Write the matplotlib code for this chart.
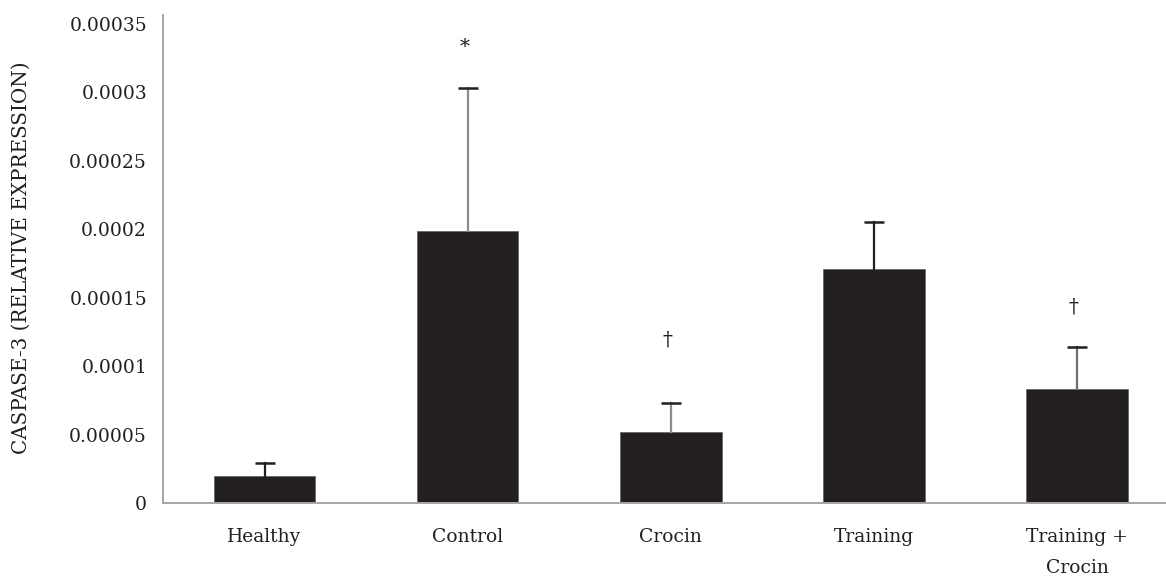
import matplotlib.pyplot as plt

# Caspase-3 relative expression per group
groups = ['Healthy', 'Control', 'Crocin', 'Training', 'Training +\nCrocin']
means = [1.97e-5, 19.9e-5, 5.2e-5, 17.1e-5, 8.35e-5]
errors = [0.95e-5, 10.4e-5, 2.1e-5, 3.45e-5, 3.05e-5]
stem_colors = ['#231f20', '#8c8c8c', '#8c8c8c', '#231f20', '#6e6e6e']
marks = ['', '*', '\u2020', '', '\u2020']
mark_gap = [0, 3.0e-5, 4.6e-5, 0, 2.9e-5]

plt.rcParams['font.family'] = ['DejaVu Serif']

fig = plt.figure(figsize=(11.66, 5.78), dpi=100)
ax = fig.add_axes([0.1398, 0.1298, 0.871, 0.8443])

x = list(range(len(groups)))
ax.bar(x, means, width=0.5, color='#231f20', edgecolor='#6a6a6a', linewidth=0.6, zorder=2)
for xi, m, e, c in zip(x, means, errors, stem_colors):
    ax.plot([xi, xi], [m, m + e], color=c, lw=1.6, zorder=3)
    ax.plot([xi - 0.049, xi + 0.049], [m + e, m + e], color='#231f20', lw=1.8,
            solid_capstyle='butt', zorder=4)

for xi, m, e, s, g in zip(x, means, errors, marks, mark_gap):
    if s:
        ax.text(xi - 0.015, m + e + g, s, ha='center', va='center',
                fontsize=14.5, color='#231f20')

ax.set_xlim(-0.5, 4.5)
ax.set_ylim(0, 0.0003566)
ax.set_yticks([0, 0.00005, 0.0001, 0.00015, 0.0002, 0.00025, 0.0003, 0.00035])
ax.set_yticklabels(['0', '0.00005', '0.0001', '0.00015', '0.0002', '0.00025', '0.0003', '0.00035'])
ax.set_xticks(x)
ax.set_xticklabels(groups)
for lbl in ax.get_xticklabels():
    lbl.set_linespacing(1.9)

ax.tick_params(axis='both', length=0, labelsize=13.5, colors='#231f20')
ax.tick_params(axis='y', pad=11.5)
ax.tick_params(axis='x', pad=18)

for side in ['top', 'right']:
    ax.spines[side].set_visible(False)
for side in ['left', 'bottom']:
    ax.spines[side].set_color('#a6a6a6')
    ax.spines[side].set_linewidth(1.4)

ax.set_ylabel('CASPASE-3 (RELATIVE EXPRESSION)', fontsize=14.3, color='#231f20')
ax.yaxis.set_label_coords(-0.13, 0.502)

fig.savefig('out.png', dpi=100)
